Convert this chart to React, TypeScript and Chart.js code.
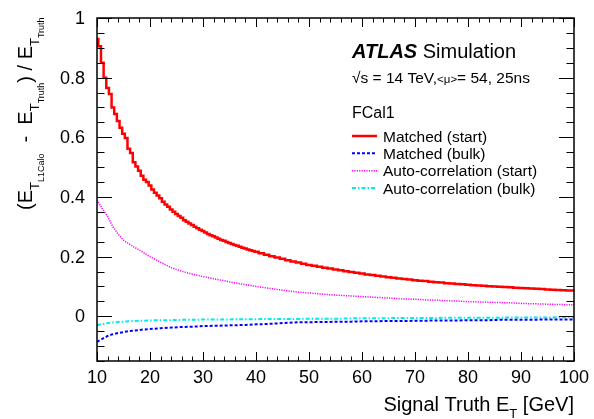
import { useEffect, useRef } from 'react';
import { Chart, registerables } from 'chart.js';

Chart.register(...registerables);

// Signal truth ET bin centres (GeV) for the matched-filter (start) histogram:
// 0.5 GeV bins up to 40 GeV, 1 GeV bins above
const fineEt = [
  10, 10.5, 11, 11.5, 12, 12.5, 13, 13.5, 14, 14.5, 15, 15.5, 16, 16.5, 17, 17.5, 18, 18.5, 19, 19.5,
  20, 20.5, 21, 21.5, 22, 22.5, 23, 23.5, 24, 24.5, 25, 25.5, 26, 26.5, 27, 27.5, 28, 28.5, 29, 29.5,
  30, 30.5, 31, 31.5, 32, 32.5, 33, 33.5, 34, 34.5, 35, 35.5, 36, 36.5, 37, 37.5, 38, 38.5, 39, 39.5,
  40, 41, 42, 43, 44, 45, 46, 47, 48, 49,
  50, 51, 52, 53, 54, 55, 56, 57, 58, 59, 60, 61, 62, 63, 64, 65, 66, 67, 68, 69,
  70, 71, 72, 73, 74, 75, 76, 77, 78, 79, 80, 81, 82, 83, 84, 85, 86, 87, 88, 89,
  90, 91, 92, 93, 94, 95, 96, 97, 98, 99, 100,
];

const matchedStart = [
  0.930, 0.905, 0.850, 0.800, 0.765, 0.745, 0.700, 0.678, 0.655, 0.632,
  0.612, 0.598, 0.562, 0.547, 0.516, 0.502, 0.488, 0.471, 0.458, 0.450,
  0.438, 0.425, 0.414, 0.405, 0.396, 0.384, 0.375, 0.367, 0.358, 0.350,
  0.343, 0.336, 0.330, 0.322, 0.317, 0.311, 0.306, 0.300, 0.295, 0.290,
  0.286, 0.281, 0.276, 0.272, 0.268, 0.264, 0.260, 0.256, 0.253, 0.249,
  0.246, 0.242, 0.239, 0.236, 0.233, 0.230, 0.227, 0.224, 0.221, 0.219,
  0.216, 0.211, 0.206, 0.201, 0.197, 0.193, 0.188, 0.184, 0.180, 0.176,
  0.172, 0.169, 0.166, 0.163, 0.160, 0.157, 0.154, 0.151, 0.148, 0.146,
  0.143, 0.140, 0.138, 0.136, 0.133, 0.131, 0.129, 0.127, 0.125, 0.123,
  0.121, 0.119, 0.118, 0.116, 0.114, 0.113, 0.111, 0.110, 0.108, 0.107,
  0.106, 0.104, 0.103, 0.102, 0.101, 0.100, 0.099, 0.098, 0.097, 0.096,
  0.095, 0.094, 0.093, 0.092, 0.091, 0.090, 0.089, 0.088, 0.087, 0.086,
  0.086,
];

// Coarser ET grid for the other three curves
const coarseEt = [
  10, 11, 12, 13, 14, 15, 16, 17, 18, 19, 20, 22, 24, 26, 28, 30, 32, 34, 36, 38,
  40, 42, 44, 46, 48, 50, 52, 54, 56, 58, 60, 62, 64, 66, 68, 70, 72, 74, 76, 78,
  80, 82, 84, 86, 88, 90, 92, 94, 96, 98, 100,
];

const matchedBulk = [
  -0.086, -0.076, -0.066, -0.060, -0.056, -0.053, -0.050, -0.048, -0.046, -0.044,
  -0.043, -0.040, -0.038, -0.036, -0.035, -0.033, -0.032, -0.031, -0.030, -0.029,
  -0.027, -0.026, -0.024, -0.022, -0.020, -0.020, -0.019, -0.019, -0.018, -0.018,
  -0.017, -0.017, -0.016, -0.016, -0.016, -0.015, -0.015, -0.014, -0.014, -0.014,
  -0.013, -0.013, -0.013, -0.012, -0.012, -0.012, -0.012, -0.011, -0.011, -0.011,
  -0.011,
];

const autoStart = [
  0.390, 0.360, 0.335, 0.300, 0.275, 0.255, 0.243, 0.232, 0.222, 0.211,
  0.200, 0.181, 0.163, 0.151, 0.141, 0.133, 0.126, 0.119, 0.112, 0.106,
  0.100, 0.095, 0.090, 0.085, 0.081, 0.078, 0.075, 0.072, 0.070, 0.068,
  0.066, 0.064, 0.062, 0.060, 0.058, 0.057, 0.055, 0.054, 0.052, 0.051,
  0.049, 0.048, 0.047, 0.046, 0.045, 0.043, 0.042, 0.041, 0.040, 0.039,
  0.038,
];

const autoBulk = [
  -0.030, -0.026, -0.023, -0.021, -0.019, -0.018, -0.017, -0.016, -0.015, -0.015,
  -0.014, -0.013, -0.013, -0.012, -0.012, -0.011, -0.011, -0.011, -0.010, -0.010,
  -0.010, -0.009, -0.009, -0.009, -0.009, -0.008, -0.008, -0.008, -0.008, -0.007,
  -0.007, -0.007, -0.007, -0.006, -0.006, -0.006, -0.006, -0.006, -0.005, -0.005,
  -0.005, -0.005, -0.005, -0.005, -0.004, -0.004, -0.004, -0.004, -0.004, -0.003,
  -0.003,
];

const xMajorTicks = [10, 20, 30, 40, 50, 60, 70, 80, 90, 100];
const yMajorTicks = [0, 0.2, 0.4, 0.6, 0.8, 1];
const xMinorStep = 2;
const yMinorStep = 0.05;
const xLimits = [10, 100];
const yLimits = [-0.15, 1];

const seriesLabels = [
  'Matched (start)',
  'Matched (bulk)',
  'Auto-correlation (start)',
  'Auto-correlation (bulk)',
];

const FONT = "'Liberation Sans', Arial, Helvetica, sans-serif";

const RED = '#ff0000';
const BLUE = '#0000ff';
const MAGENTA = '#ff00ff';
const CYAN = '#00ecec';

type Style = { color: string; width: number; dash: number[] };
const styles: Style[] = [
  { color: RED, width: 2.5, dash: [] },
  { color: BLUE, width: 2, dash: [3, 2] },
  { color: MAGENTA, width: 1.5, dash: [1.2, 1.2] },
  { color: CYAN, width: 2, dash: [4, 2, 1.5, 2] },
];

const toPoints = (xs: number[], ys: number[]) => xs.map((x, i) => ({ x, y: ys[i] }));

type Piece = { t: string; size: number; dy: number; bold?: boolean; italic?: boolean };

function setFont(ctx: CanvasRenderingContext2D, p: Piece) {
  ctx.font = `${p.italic ? 'italic ' : ''}${p.bold ? 'bold ' : ''}${p.size}px ${FONT}`;
}

function drawPieces(ctx: CanvasRenderingContext2D, pieces: Piece[], x0: number, y0: number) {
  let x = x0;
  for (const p of pieces) {
    setFont(ctx, p);
    ctx.fillText(p.t, x, y0 + p.dy);
    x += ctx.measureText(p.t).width;
  }
  return x;
}

function piecesWidth(ctx: CanvasRenderingContext2D, pieces: Piece[]) {
  let w = 0;
  for (const p of pieces) {
    setFont(ctx, p);
    w += ctx.measureText(p.t).width;
  }
  return w;
}

const framePlugin = {
  id: 'rootFrame',
  afterDraw(chart: Chart) {
    const { ctx, chartArea } = chart;
    const { left, right, top, bottom } = chartArea;
    const xs = chart.scales.x;
    const ys = chart.scales.y;
    ctx.save();
    ctx.strokeStyle = '#000';
    ctx.fillStyle = '#000';
    ctx.setLineDash([]);

    // inward ticks on all four sides
    ctx.lineWidth = 1;
    ctx.beginPath();
    for (let v = xLimits[0]; v <= xLimits[1] + 1e-9; v += xMinorStep) {
      const major = xMajorTicks.some((t) => Math.abs(t - v) < 1e-9);
      const len = major ? 9 : 4.5;
      const px = Math.round(xs.getPixelForValue(v)) + 0.5;
      ctx.moveTo(px, bottom);
      ctx.lineTo(px, bottom - len);
      ctx.moveTo(px, top);
      ctx.lineTo(px, top + len);
    }
    for (let v = yLimits[0]; v <= yLimits[1] + 1e-9; v += yMinorStep) {
      const major = yMajorTicks.some((t) => Math.abs(t - v) < 1e-6);
      const len = major ? 15 : 7.5;
      const py = Math.round(ys.getPixelForValue(v)) + 0.5;
      ctx.moveTo(left, py);
      ctx.lineTo(left + len, py);
      ctx.moveTo(right, py);
      ctx.lineTo(right - len, py);
    }
    ctx.stroke();

    // frame
    ctx.lineWidth = 1.5;
    ctx.strokeRect(left, top, right - left, bottom - top);

    // ATLAS label
    ctx.textAlign = 'left';
    ctx.textBaseline = 'alphabetic';
    const lx = 352;
    drawPieces(ctx, [
      { t: 'ATLAS', size: 20, dy: 0, bold: true, italic: true },
      { t: ' Simulation', size: 20, dy: 0 },
    ], lx, 58);
    drawPieces(ctx, [
      { t: '\u221As = 14 TeV,', size: 15.5, dy: 0 },
      { t: '<\u03bc>', size: 11.5, dy: 0 },
      { t: '= 54, 25ns', size: 15.5, dy: 0 },
    ], lx, 83);
    drawPieces(ctx, [{ t: 'FCal1', size: 16, dy: 0 }], lx, 118);

    // legend entries
    const rowY = [136, 153.3, 170.7, 188];
    seriesLabels.forEach((label, i) => {
      const st = styles[i];
      ctx.save();
      ctx.strokeStyle = st.color;
      ctx.lineWidth = st.width;
      ctx.setLineDash(st.dash);
      ctx.beginPath();
      ctx.moveTo(lx, rowY[i]);
      ctx.lineTo(lx + 25, rowY[i]);
      ctx.stroke();
      ctx.restore();
      ctx.font = `15.5px ${FONT}`;
      ctx.fillText(label, 383, rowY[i] + 5.5);
    });

    // x-axis title, right aligned to the frame
    const xt: Piece[] = [
      { t: 'Signal Truth E', size: 20, dy: 0 },
      { t: 'T', size: 13, dy: 7 },
      { t: ' [GeV]', size: 20, dy: 0 },
    ];
    const xw = piecesWidth(ctx, xt);
    drawPieces(ctx, xt, right - xw, 410.5);

    // y-axis title, rotated
    const yt: Piece[] = [
      { t: '(', size: 20, dy: 0 },
      { t: 'E', size: 20, dy: 0 },
      { t: 'T', size: 13, dy: 7 },
      { t: 'L1Calo', size: 9, dy: 12 },
      { t: '  -  ', size: 20, dy: 0 },
      { t: 'E', size: 20, dy: 0 },
      { t: 'T', size: 13, dy: 7 },
      { t: 'Truth', size: 9, dy: 12 },
      { t: ')', size: 20, dy: 0 },
      { t: ' / ', size: 20, dy: 0 },
      { t: 'E', size: 20, dy: 0 },
      { t: 'T', size: 13, dy: 7 },
      { t: 'Truth', size: 9, dy: 12 },
    ];
    ctx.save();
    ctx.translate(32, 210);
    ctx.rotate(-Math.PI / 2);
    drawPieces(ctx, yt, 0, 0);
    ctx.restore();

    ctx.restore();
  },
};

export default function App() {
  const canvasRef = useRef<HTMLCanvasElement | null>(null);

  useEffect(() => {
    document.body.style.margin = '0';
    const canvas = canvasRef.current;
    if (!canvas) return;

    const series = [
      toPoints(fineEt, matchedStart),
      toPoints(coarseEt, matchedBulk),
      toPoints(coarseEt, autoStart),
      toPoints(coarseEt, autoBulk),
    ];

    const chart = new Chart(canvas, {
      type: 'line',
      data: {
        datasets: series.map((pts, i) => ({
          label: seriesLabels[i],
          data: pts,
          borderColor: styles[i].color,
          borderWidth: styles[i].width,
          borderDash: styles[i].dash,
          pointRadius: 0,
          fill: false,
          tension: 0,
          stepped: i === 0 ? 'middle' : false,
        })),
      },
      options: {
        animation: false,
        responsive: false,
        devicePixelRatio: 1,
        layout: { padding: { left: 0, right: 20, top: 18, bottom: 0 } },
        plugins: {
          legend: { display: false },
          tooltip: { enabled: false },
        },
        scales: {
          x: {
            type: 'linear',
            min: xLimits[0],
            max: xLimits[1],
            grid: { display: false },
            border: { display: false },
            afterFit: (s: any) => {
              s.height = 58;
            },
            afterBuildTicks: (s: any) => {
              s.ticks = xMajorTicks.map((value) => ({ value }));
            },
            ticks: {
              color: '#000',
              padding: -2,
              maxRotation: 0,
              autoSkip: false,
              font: { family: FONT, size: 18 },
              callback: (v: any) => String(v),
            },
          },
          y: {
            type: 'linear',
            min: yLimits[0],
            max: yLimits[1],
            grid: { display: false },
            border: { display: false },
            afterFit: (s: any) => {
              s.width = 97;
            },
            afterBuildTicks: (s: any) => {
              s.ticks = yMajorTicks.map((value) => ({ value }));
            },
            ticks: {
              color: '#000',
              padding: 4,
              labelOffset: 1,
              autoSkip: false,
              font: { family: FONT, size: 18 },
              callback: (v: any) => String(Number(Number(v).toFixed(2))),
            },
          },
        },
      },
      plugins: [framePlugin],
    });

    return () => chart.destroy();
  }, []);

  return (
    <div style={{ position: 'fixed', left: 0, top: 0, width: 594, height: 419, background: '#fff' }}>
      <canvas ref={canvasRef} width={594} height={419} style={{ display: 'block', width: 594, height: 419 }} />
    </div>
  );
}
